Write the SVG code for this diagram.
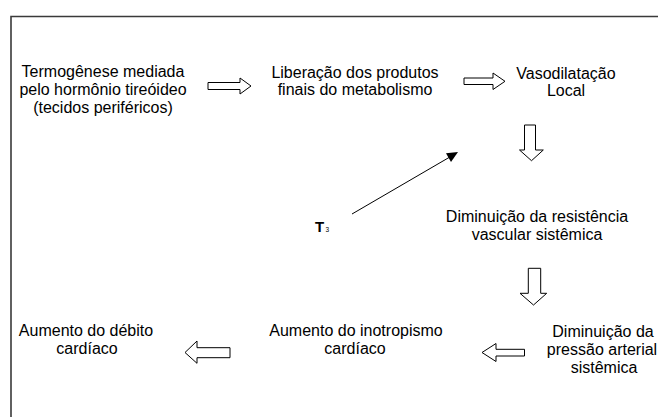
<svg xmlns="http://www.w3.org/2000/svg" width="658" height="417" viewBox="0 0 658 417">
<style>
.t{font-family:"Liberation Sans",Arial,sans-serif;font-size:16px;fill:#000;text-anchor:middle}
.blk{fill:#fff;stroke:#000;stroke-width:1}
.frame{stroke:#3a3a3a;stroke-width:1.6;fill:none}
</style>
<rect width="658" height="417" fill="#fff"/>
<path class="frame" d="M11,417 V16.5 H658"/>
<g id="n1"><text class="t" x="103" y="77">Termogênese mediada</text><text class="t" x="103" y="95">pelo hormônio tireóideo</text><text class="t" x="103" y="113">(tecidos periféricos)</text></g>
<g id="n2"><text class="t" x="355" y="78">Liberação dos produtos</text><text class="t" x="355" y="95">finais do metabolismo</text></g>
<g id="n3"><text class="t" x="566" y="79">Vasodilatação</text><text class="t" x="566" y="96">Local</text></g>
<g id="n4"><text class="t" x="537" y="222">Diminuição da resistência</text><text class="t" x="537" y="239.5">vascular sistêmica</text></g>
<g id="n5"><text class="t" x="603" y="337">Diminuição da</text><text class="t" x="602" y="355">pressão arterial</text><text class="t" x="604" y="373">sistêmica</text></g>
<g id="n6"><text class="t" x="356" y="336">Aumento do inotropismo</text><text class="t" x="355" y="354">cardíaco</text></g>
<g id="n7"><text class="t" x="86" y="336">Aumento do débito</text><text class="t" x="87" y="354">cardíaco</text></g>
<g id="t3"><text x="315" y="231.5" style="font-family:'Liberation Sans',Arial,sans-serif;font-size:15px;font-weight:bold">T</text><text x="325.5" y="232" style="font-family:'Liberation Sans',Arial,sans-serif;font-size:6.5px">3</text></g>
<g id="connectors">
<polygon class="blk" points="208,82.5 240,82.5 240,78 251,86 240,94 240,89.5 208,89.5"/>
<polygon class="blk" points="464,78 493,78 493,73 505,81.3 493,89.5 493,84.5 464,84.5"/>
<polygon class="blk" points="524.5,125 535.5,125 535.5,150 543.3,150 531.5,160.7 519.5,150 524.5,150"/>
<polygon class="blk" points="528.3,268.3 540.7,268.3 540.7,293.3 546.7,293.3 533.5,305 520,293.3 528.3,293.3"/>
<polygon class="blk" points="230,347.7 230,357.7 197,357.7 197,363.3 185,352.5 197,341 197,347.7"/>
<polygon class="blk" points="524.5,349.3 524.5,356 496,356 496,361.5 482,352.5 496,343.5 496,349.3"/>
<line x1="352" y1="214" x2="449" y2="157.5" stroke="#000" stroke-width="1"/>
<polygon points="446,153.3 458,152 451,161.9" fill="#000"/>
</g>
</svg>
